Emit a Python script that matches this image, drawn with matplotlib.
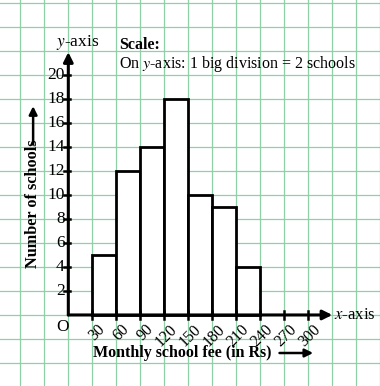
import numpy as np
import matplotlib
matplotlib.use("Agg")
import matplotlib.pyplot as plt

# histogram data: monthly school fee classes (Rs) and number of schools
fee_edges = [30, 60, 90, 120, 150, 180, 210, 240]
schools = [5, 12, 14, 18, 10, 9, 4]
x_ticks = [30, 60, 90, 120, 150, 180, 210, 240, 270, 300]
y_ticks = [2, 4, 6, 8, 10, 12, 14, 16, 18, 20]

plt.rcParams['font.family'] = ['Liberation Serif', 'DejaVu Serif']

fig = plt.figure(figsize=(3.8, 3.86), dpi=100)
ax = fig.add_axes([0, 0, 1, 1])
ax.set_xlim(-85.4, 389.6)
ax.set_ylim(-5.92, 26.25)
ax.axis('off')

# graph paper
grid_col = '#8fd1a6'
for gx in np.arange(-90, 400, 30):
    ax.axvline(gx, color=grid_col, lw=0.9, zorder=0)
for gy in np.arange(-6, 28, 2):
    ax.axhline(gy, color=grid_col, lw=0.9, zorder=0)

# bars
ax.bar(fee_edges[:-1], schools, width=30, align='edge', facecolor='white',
       edgecolor='black', lw=2, zorder=2)

# axes with arrows
ax.annotate('', xy=(0, 21.9), xytext=(0, 0),
            arrowprops=dict(arrowstyle='-|>', color='black', lw=2.2,
                            mutation_scale=14, shrinkA=0, shrinkB=0), zorder=3)
ax.annotate('', xy=(330, 0), xytext=(0, 0),
            arrowprops=dict(arrowstyle='-|>', color='black', lw=2.2,
                            mutation_scale=14, shrinkA=0, shrinkB=0), zorder=3)

for yv in y_ticks:
    ax.plot([-5, 2], [yv, yv], color='black', lw=1.8, zorder=3)
    ax.text(-4.5, yv, str(yv), ha='right', va='center', fontsize=12.5)
for xv in x_ticks:
    ax.plot([xv, xv], [-0.3, 0.3], color='black', lw=1.8, zorder=3)
    ax.text(xv + 6, -0.55, str(xv), ha='right', va='top', rotation=45,
            rotation_mode='anchor', fontsize=11.5)

ax.text(-6.6, -1.0, 'O', ha='center', va='center', fontsize=12.5)
ax.text(332, 0, '$\\it{x}$-axis', ha='left', va='center', fontsize=12,
        math_fontfamily='stix')
ax.text(12, 22.7, '$\\it{y}$-axis', ha='center', va='center', fontsize=12.5,
        math_fontfamily='stix')

ax.text(63.4, 22.5, 'Scale:', ha='left', va='center', fontsize=11.5,
        fontweight='bold')
ax.text(63.4, 20.9, 'On $\\it{y}$-axis: 1 big division = 2 schools', ha='left',
        va='center', fontsize=11.5, math_fontfamily='stix')

# axis titles with arrows
ax.text(-44, 9.3, 'Number of schools', rotation=90, ha='center', va='center',
        fontsize=11.7, fontweight='bold')
ax.annotate('', xy=(-44, 17.4), xytext=(-44, 14.2),
            arrowprops=dict(arrowstyle='-|>', color='black', lw=1.8,
                            mutation_scale=12, shrinkA=0, shrinkB=0))
ax.text(143, -3.17, 'Monthly school fee (in Rs)', ha='center', va='center',
        fontsize=11.5, fontweight='bold')
ax.annotate('', xy=(306, -3.17), xytext=(264, -3.17),
            arrowprops=dict(arrowstyle='-|>', color='black', lw=1.8,
                            mutation_scale=12, shrinkA=0, shrinkB=0))

fig.savefig('out.png', dpi=100)
